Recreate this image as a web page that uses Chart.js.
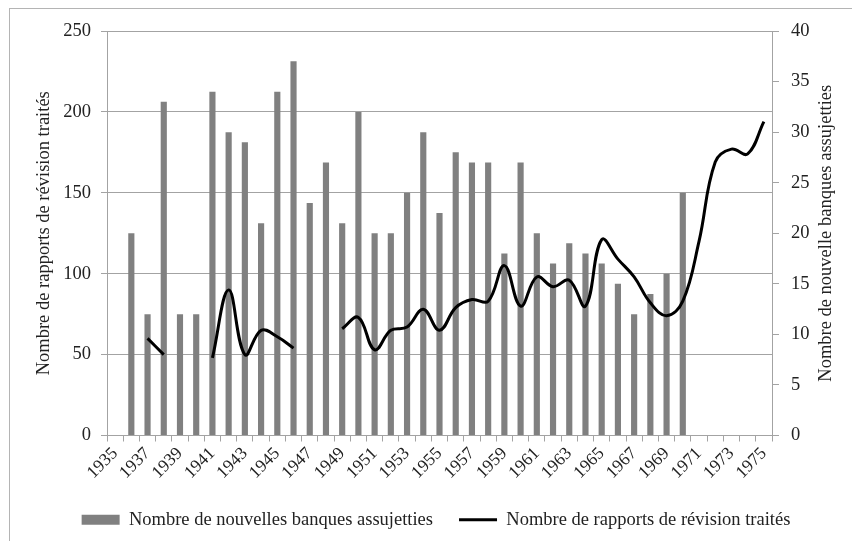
<!DOCTYPE html>
<html>
<head>
<meta charset="utf-8">
<script src="https://cdn.jsdelivr.net/npm/chart.js@4"></script>
<style>
html, body { margin: 0; padding: 0; background: #fff; }
#frame { position: absolute; left: 9px; top: 8px; width: 900px; height: 600px; border: 1px solid #b4b4b4; }
#wrap { position: absolute; left: 0; top: 0; width: 852px; height: 541px; }
</style>
</head>
<body>
<div id="frame"></div>
<div id="wrap"><canvas id="chart"></canvas></div>
<script>
var years = ["1935","1936","1937","1938","1939","1940","1941","1942","1943","1944",
    "1945","1946","1947","1948","1949","1950","1951","1952","1953","1954",
    "1955","1956","1957","1958","1959","1960","1961","1962","1963","1964",
    "1965","1966","1967","1968","1969","1970","1971","1972","1973","1974","1975"];

// nouvelles banques (axe de droite)
var banks = [null, 20, 12, 33, 12, 12, 34, 30, 29, 21,
    34, 37, 23, 27, 21, 32, 20, 20, 24, 30,
    22, 28, 27, 27, 18, 27, 20, 17, 19, 18,
    17, 15, 12, 14, 16, 24, null, null, null, null, null];

// rapports de révision (axe de gauche)
var reports = [null, null, 60, 50, null, null, 48, 90, 50, 65,
    61, 54, null, null, 66, 73, 53, 65, 67, 78,
    65, 79, 84, 83, 105, 80, 98, 92, 96, 80,
    121, 109, 98, 82, 74, 83, 120, 169, 177, 174, 194];

var serif = '"Liberation Serif", "Times New Roman", serif';
var txt = '#222';
var gridCol = '#a3a3a3';

var rightTitle = {
    id: 'rightTitle',
    afterDraw: function(chart) {
        var ctx = chart.ctx;
        var a = chart.chartArea;
        ctx.save();
        ctx.translate(chart.scales.y1.right - 26, (a.top + a.bottom) / 2);
        ctx.rotate(-Math.PI / 2);
        ctx.font = '18.5px ' + serif;
        ctx.fillStyle = txt;
        ctx.textAlign = 'center';
        ctx.textBaseline = 'middle';
        ctx.fillText('Nombre de nouvelle banques assujetties', 0, 0);
        ctx.restore();
    }
};

var ctx = document.getElementById('chart');
new Chart(ctx, {
    type: 'bar',
    data: {
        labels: years,
        datasets: [{
            type: 'bar',
            label: 'Nombre de nouvelles banques assujetties',
            data: banks,
            backgroundColor: '#808080',
            yAxisID: 'y1',
            barPercentage: 0.38,
            categoryPercentage: 1,
            order: 1
        }, {
            type: 'line',
            label: 'Nombre de rapports de révision traités',
            data: reports,
            borderColor: '#000',
            borderWidth: 3,
            pointRadius: 0,
            tension: 0.4,
            fill: false,
            spanGaps: false,
            yAxisID: 'y',
            order: 0
        }]
    },
    options: {
        responsive: true,
        maintainAspectRatio: false,
        animation: false,
        layout: { padding: { top: 31, bottom: 2, left: 20, right: 0 } },
        plugins: {
            tooltip: { enabled: false },
            legend: {
                position: 'bottom',
                labels: {
                    font: { family: serif, size: 18.5 },
                    color: txt,
                    usePointStyle: true,
                    pointStyleWidth: 38,
                    boxHeight: 10,
                    padding: 26,
                    generateLabels: function(chart) {
                        var items = Chart.defaults.plugins.legend.labels.generateLabels(chart);
                        items.forEach(function(it) {
                            if (it.datasetIndex === 0) {
                                it.pointStyle = 'rect';
                                it.fillStyle = '#808080';
                                it.strokeStyle = '#808080';
                                it.lineWidth = 0;
                            } else {
                                it.pointStyle = 'line';
                                it.strokeStyle = '#000';
                                it.lineWidth = 3;
                            }
                        });
                        return items.sort(function(a, b) { return a.datasetIndex - b.datasetIndex; });
                    }
                }
            }
        },
        scales: {
            x: {
                offset: true,
                grid: { offset: true, drawOnChartArea: false, tickLength: 6, color: gridCol },
                border: { color: gridCol },
                ticks: {
                    autoSkip: false,
                    minRotation: 45,
                    maxRotation: 45,
                    padding: 2,
                    color: txt,
                    font: { family: serif, size: 17.5 },
                    callback: function(v, i) { return i % 2 === 0 ? this.getLabelForValue(v) : ''; }
                },
                afterFit: function(s) { s.height = 49; }
            },
            y: {
                position: 'left',
                min: 0,
                max: 250,
                ticks: { stepSize: 50, padding: 10, color: txt, font: { family: serif, size: 18.5 } },
                grid: { color: gridCol, tickLength: 6 },
                border: { color: gridCol },
                title: {
                    display: true,
                    text: 'Nombre de rapports de révision traités',
                    color: txt,
                    font: { family: serif, size: 18.5 },
                    padding: { top: 13, bottom: 0 }
                },
                afterFit: function(s) { s.width = 87; }
            },
            y1: {
                position: 'right',
                min: 0,
                max: 40,
                ticks: { stepSize: 5, padding: 12, color: txt, font: { family: serif, size: 18.5 } },
                grid: { drawOnChartArea: false, color: gridCol, tickLength: 7 },
                border: { color: gridCol },
                afterFit: function(s) { s.width = 80; }
            }
        }
    },
    plugins: [rightTitle]
});
</script>
</body>
</html>
